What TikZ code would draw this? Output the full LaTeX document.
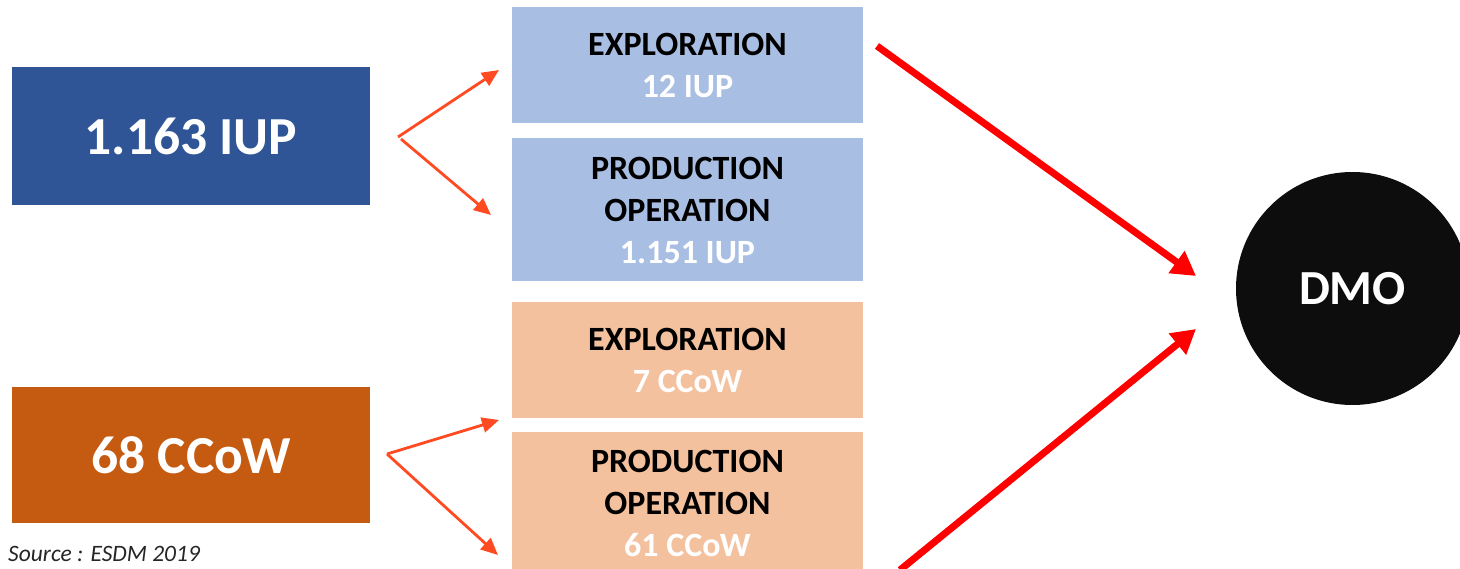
\documentclass[tikz,border=0pt]{standalone}
\usepackage{fontspec}
\setmainfont{Carlito}
\usetikzlibrary{arrows.meta}
\definecolor{dblue}{HTML}{2F5597}
\definecolor{dorange}{HTML}{C55A11}
\definecolor{lblue}{HTML}{A9BEE3}
\definecolor{peach}{HTML}{F4C19E}
\definecolor{sarrow}{HTML}{FF4A22}
\definecolor{dmoblack}{HTML}{0D0D0D}
\begin{document}
\begin{tikzpicture}[x=1pt,y=-1pt,
  bigbox/.style={inner sep=0pt, minimum width=358pt, text=white,
    font=\fontsize{53.5}{60}\selectfont\bfseries},
  smallbox/.style={inner sep=0pt, minimum width=351pt, align=center, text=black,
    font=\fontsize{34}{42}\selectfont\bfseries},
  thin arrow/.style={draw=sarrow, line width=2.8pt,
    -{Triangle[length=17pt,width=15pt]}},
  thick arrow/.style={draw=red, line width=7pt,
    -{Triangle[length=24pt,width=26pt]}}]
\useasboundingbox (0,0) rectangle (1460,569);
\begin{scope}
\clip (0,0) rectangle (1460,569);
\fill[white] (0,0) rectangle (1460,569);

% left boxes
\node[bigbox, fill=dblue, minimum height=138pt] (iup) at (191,136) {1.163 IUP};
\node[bigbox, fill=dorange, minimum height=135pt] (ccow) at (191,455) {68 CCoW};

% right boxes
\node[smallbox, fill=lblue, minimum height=116pt] (exp1) at (687.5,65)
  {EXPLORATION\\\textcolor{white}{12 IUP}};
\node[smallbox, fill=lblue, minimum height=143pt] (prod1) at (687.5,210)
  {PRODUCTION\\OPERATION\\\textcolor{white}{1.151 IUP}};
\node[smallbox, fill=peach, minimum height=116pt] (exp2) at (687.5,360)
  {EXPLORATION\\\textcolor{white}{7 CCoW}};
\node[smallbox, fill=peach, minimum height=142pt] (prod2) at (687.5,503)
  {PRODUCTION\\OPERATION\\\textcolor{white}{61 CCoW}};

% DMO circle
\node[circle, fill=dmoblack, minimum size=233pt, inner sep=0pt, text=white,
  font=\fontsize{49}{56}\selectfont\bfseries] (dmo) at (1352.5,288.5) {DMO};

% source
\node[anchor=base west, inner sep=0pt, text=black!85,
  font=\fontsize{23.5}{28}\selectfont\itshape] (src) at (8,561) {Source : ESDM 2019};

% arrow coordinates
\coordinate (a1s) at (398,137);
\coordinate (a1e) at (499,70);
\coordinate (a2s) at (401,139);
\coordinate (a2e) at (491,215);
\coordinate (a3s) at (387,454);
\coordinate (a3e) at (499,420);
\coordinate (a4e) at (498,555);
\coordinate (b1s) at (877,46);
\coordinate (b1e) at (1196,276);
\coordinate (b2s) at (900,570);
\coordinate (b2e) at (1196,329);

\draw[thin arrow] (a1s) -- (a1e);
\draw[thin arrow] (a2s) -- (a2e);
\draw[thin arrow] (a3s) -- (a3e);
\draw[thin arrow] (a3s) -- (a4e);
\draw[thick arrow] (b1s) -- (b1e);
\draw[thick arrow] (b2s) -- (b2e);
\end{scope}
\end{tikzpicture}
\end{document}
